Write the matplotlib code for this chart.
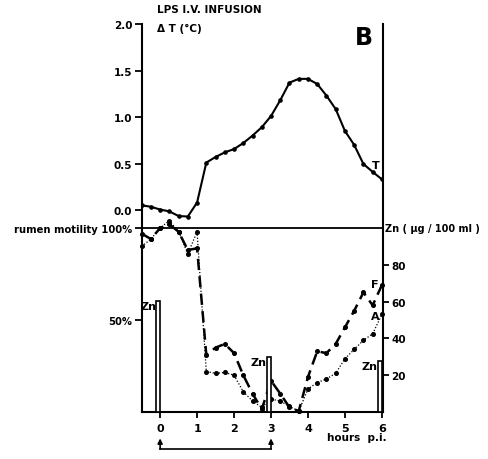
import matplotlib
matplotlib.use("Agg")
import matplotlib.pyplot as plt
import matplotlib.transforms as mtransforms

# hours post infusion
hours = [-0.5, -0.25, 0, 0.25, 0.5, 0.75, 1.0, 1.25, 1.5, 1.75, 2.0, 2.25, 2.5, 2.75,
         3.0, 3.25, 3.5, 3.75, 4.0, 4.25, 4.5, 4.75, 5.0, 5.25, 5.5, 5.75, 6.0]

# rectal temperature change (deg C)
temp = [0.05, 0.035, 0.005, -0.015, -0.065, -0.07, 0.08, 0.51, 0.57, 0.62, 0.655, 0.72,
        0.80, 0.89, 1.01, 1.18, 1.37, 1.41, 1.41, 1.355, 1.23, 1.085, 0.85, 0.70, 0.495,
        0.41, 0.33]

# rumen motility (% of pre-infusion), F = frequency, A = amplitude
freq = [97, 94, 100, 102, 98, 88, 89, 31, 35, 37, 32, 20, 10, 1.5, 17, 10, 2.5, 0.5,
        19, 33, 32, 37, 46, 55, 65, 58, 69]
ampl = [90, 94, 100, 104, 98, 86, 98, 22, 21, 21.5, 20, 11, 6, 2.5, 7, 6, 3, 0.5,
        12.5, 16, 18, 21, 29, 34, 39, 42.5, 53]

# plasma zinc (ug/100 ml)
zn_hours = [0, 3, 6]
zn_vals = [60.5, 30, 27.5]

temp_ticks = [0.0, 0.5, 1.0, 1.5, 2.0]
zn_ticks = [20, 40, 60, 80]

plt.rcParams['font.family'] = ['DejaVu Sans']
plt.rcParams['font.weight'] = 'bold'

fig = plt.figure(figsize=(4.89, 4.6), dpi=100)
ax = fig.add_axes([142 / 489, 47 / 460, 241 / 489, 388 / 460])
ax.set_xlim(-0.49, 6.03)
ax.set_ylim(0, 210.9)

ax.spines["top"].set_visible(False)
for s in ["left", "right", "bottom"]:
    ax.spines[s].set_linewidth(1.5)

# temperature axis (upper part), same left spine
axt = ax.twinx()
axt.set_ylim(-2.172, 2.0)
for s in axt.spines.values():
    s.set_visible(False)
axt.yaxis.set_ticks_position("left")
axt.set_yticks(temp_ticks)
axt.set_yticklabels(["%.1f" % t for t in temp_ticks])
axt.tick_params(axis="y", direction="out", length=5, width=1.3, pad=2, labelsize=7.5)

# zinc axis on right
axz = ax.twinx()
axz.set_ylim(0, 210.9)
for s in axz.spines.values():
    s.set_visible(False)
axz.set_yticks(zn_ticks)
axz.tick_params(axis="y", direction="out", length=4, width=1.3, pad=2, labelsize=7.5)

ax.set_yticks([50, 100])
ax.set_yticklabels(["50%", "rumen motility 100%"])
ax.tick_params(axis="y", direction="out", length=5, width=1.3, pad=2, labelsize=7.2)
ax.set_xticks(range(0, 7))
ax.tick_params(axis="x", direction="out", length=4, width=1.3, pad=4, labelsize=8)

ax.axhline(100, color="black", lw=1.3)

axt.plot(hours, temp, color="black", lw=1.5, marker="o", markersize=2.3)
ax.plot(hours, freq, color="black", lw=1.8, linestyle=(0, (4.5, 2.5)), marker="o",
        markersize=2.6, clip_on=False)
ax.plot(hours, ampl, color="black", lw=0.9, linestyle=(0, (1, 1.5)), marker="o",
        markersize=2.6, clip_on=False)

ax.bar([h - 0.05 for h in zn_hours], zn_vals, width=0.11, facecolor="white",
       edgecolor="black", lw=1.2, zorder=3)
for h, v in zip(zn_hours, zn_vals):
    ax.text(h - 0.11, v, "Zn", ha="right", va="top", fontsize=8)

ax.text(5.81, 69.6, "F", ha="center", va="center", fontsize=8)
ax.text(5.81, 52.3, "A", ha="center", va="center", fontsize=8)
axt.text(5.84, 0.48, "T", ha="center", va="center", fontsize=8)

blend = mtransforms.blended_transform_factory(ax.transAxes, ax.transData)
ax.text(1.01, 100, "Zn ( \u00b5g / 100 ml )", transform=blend, ha="left", va="center",
        fontsize=7)

fig.text(157 / 489, 1 - 10 / 460, "LPS I.V. INFUSION", ha="left", va="center", fontsize=7.5)
fig.text(157 / 489, 1 - 29 / 460, "\u0394 T (\u00b0C)", ha="left", va="center", fontsize=7.5)
fig.text(364 / 489, 1 - 38 / 460, "B", ha="center", va="center", fontsize=17, fontweight="bold")
fig.text(357 / 489, 1 - 438 / 460, "hours  p.i.", ha="center", va="center", fontsize=7.5)

# infusion period arrow below axis
blendx = mtransforms.blended_transform_factory(ax.transData, ax.transAxes)
ax.plot([0, 3], [-0.0954, -0.0954], color="black", lw=1.2, transform=blendx, clip_on=False)
for x in [0, 3]:
    ax.annotate("", xy=(x, -0.068), xytext=(x, -0.0954), xycoords=blendx, textcoords=blendx,
                arrowprops=dict(arrowstyle="-|>", color="black", lw=1.2, mutation_scale=7,
                                shrinkA=0, shrinkB=0))

fig.savefig("out.png", dpi=100)
